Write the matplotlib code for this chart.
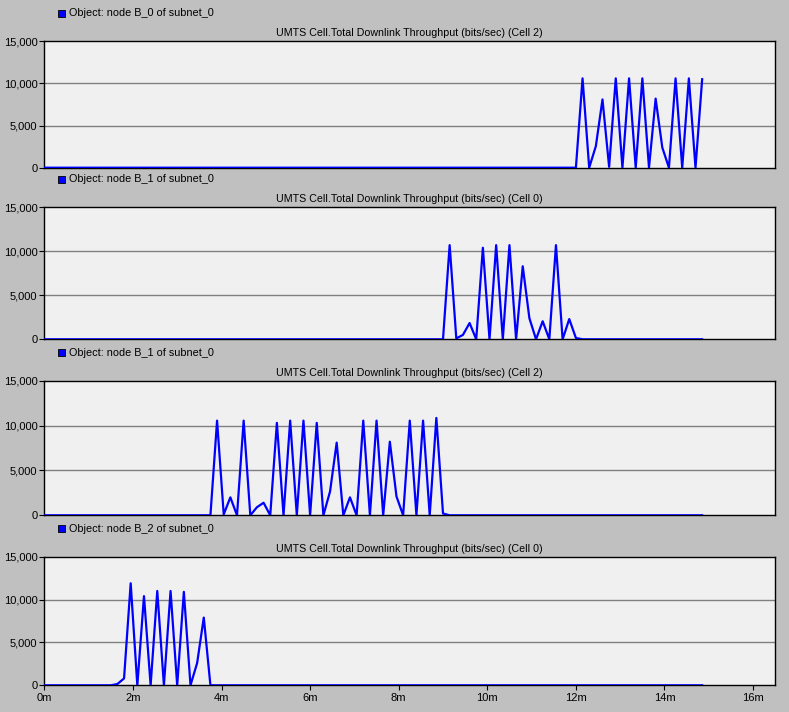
import numpy as np
from matplotlib import pyplot as plt
from matplotlib.ticker import StrMethodFormatter

plt.rcParams['font.family'] = ['Liberation Sans', 'DejaVu Sans']

# one sample every 9 seconds (0.15 min), 100 samples
sample_step = 0.15
n_samples = 100

legends = ['Object: node B_0 of subnet_0',
           'Object: node B_1 of subnet_0',
           'Object: node B_1 of subnet_0',
           'Object: node B_2 of subnet_0']

titles = ['UMTS Cell.Total Downlink Throughput (bits/sec) (Cell 2)',
          'UMTS Cell.Total Downlink Throughput (bits/sec) (Cell 0)',
          'UMTS Cell.Total Downlink Throughput (bits/sec) (Cell 2)',
          'UMTS Cell.Total Downlink Throughput (bits/sec) (Cell 0)']

b0_cell2 = [0, 0, 0, 0, 0, 0, 0, 0, 0, 0,
            0, 0, 0, 0, 0, 0, 0, 0, 0, 0,
            0, 0, 0, 0, 0, 0, 0, 0, 0, 0,
            0, 0, 0, 0, 0, 0, 0, 0, 0, 0,
            0, 0, 0, 0, 0, 0, 0, 0, 0, 0,
            0, 0, 0, 0, 0, 0, 0, 0, 0, 0,
            0, 0, 0, 0, 0, 0, 0, 0, 0, 0,
            0, 0, 0, 0, 0, 0, 0, 0, 0, 0,
            0, 10600, 0, 2550, 8100, 100, 10600, 0, 10600, 0,
            10600, 0, 8200, 2400, 0, 10600, 0, 10600, 0, 10500]

b1_cell0 = [0, 0, 0, 0, 0, 0, 0, 0, 0, 0,
            0, 0, 0, 0, 0, 0, 0, 0, 0, 0,
            0, 0, 0, 0, 0, 0, 0, 0, 0, 0,
            0, 0, 0, 0, 0, 0, 0, 0, 0, 0,
            0, 0, 0, 0, 0, 0, 0, 0, 0, 0,
            0, 0, 0, 0, 0, 0, 0, 0, 0, 0,
            0, 10700, 100, 500, 1850, 0, 10400, 0, 10700, 0,
            10700, 0, 8300, 2400, 0, 2050, 0, 10700, 0, 2300,
            150, 0, 0, 0, 0, 0, 0, 0, 0, 0,
            0, 0, 0, 0, 0, 0, 0, 0, 0, 0]

b1_cell2 = [0, 0, 0, 0, 0, 0, 0, 0, 0, 0,
            0, 0, 0, 0, 0, 0, 0, 0, 0, 0,
            0, 0, 0, 0, 0, 0, 10550, 100, 2000, 0,
            10550, 0, 900, 1400, 0, 10300, 0, 10550, 0, 10550,
            0, 10300, 0, 2650, 8100, 0, 2000, 0, 10550, 0,
            10550, 0, 8200, 2100, 0, 10550, 0, 10550, 0, 10850,
            200, 0, 0, 0, 0, 0, 0, 0, 0, 0,
            0, 0, 0, 0, 0, 0, 0, 0, 0, 0,
            0, 0, 0, 0, 0, 0, 0, 0, 0, 0,
            0, 0, 0, 0, 0, 0, 0, 0, 0, 0]

b2_cell0 = [0, 0, 0, 0, 0, 0, 0, 0, 0, 0,
            0, 150, 800, 11900, 0, 10400, 0, 11000, 0, 11000,
            0, 10900, 0, 2600, 7900, 0, 0, 0, 0, 0,
            0, 0, 0, 0, 0, 0, 0, 0, 0, 0,
            0, 0, 0, 0, 0, 0, 0, 0, 0, 0,
            0, 0, 0, 0, 0, 0, 0, 0, 0, 0,
            0, 0, 0, 0, 0, 0, 0, 0, 0, 0,
            0, 0, 0, 0, 0, 0, 0, 0, 0, 0,
            0, 0, 0, 0, 0, 0, 0, 0, 0, 0,
            0, 0, 0, 0, 0, 0, 0, 0, 0, 0]

series = [b0_cell2, b1_cell0, b1_cell2, b2_cell0]
x_ticks = [0, 2, 4, 6, 8, 10, 12, 14, 16]
y_ticks = [0, 5000, 10000, 15000]

times = np.arange(n_samples) * sample_step

W, H = 789, 712
# panel boxes in pixels: (top, bottom)
boxes = [(41.3, 167.7), (207.3, 339.3), (380.7, 515.3), (556.7, 685.3)]
left, right = 44.3, 775.3

fig = plt.figure(figsize=(W / 100, H / 100), dpi=100)
fig.patch.set_facecolor('#c0c0c0')

for k in range(4):
    top, bottom = boxes[k]
    ax = fig.add_axes([left / W, 1 - bottom / H, (right - left) / W, (bottom - top) / H])
    ax.set_facecolor('#f0f0f0')
    ax.plot(times, series[k], color='#0000ff', lw=1.6, zorder=3)
    ax.set_xlim(0, (right - left) / 44.3)
    ax.set_ylim(0, 15000)
    ax.set_yticks(y_ticks)
    ax.yaxis.set_major_formatter(StrMethodFormatter('{x:,.0f}'))
    for v in [5000, 10000]:
        ax.axhline(v, color='#808080', lw=1, zorder=1)
    for s in ax.spines.values():
        s.set_color('black')
        s.set_linewidth(1)
    ax.tick_params(axis='y', length=3.5, width=0.8, pad=1.5, labelsize=8, colors='black')
    if k == 3:
        ax.set_xticks(x_ticks)
        ax.set_xticklabels([str(t) + 'm' for t in x_ticks])
        ax.tick_params(axis='x', length=3.5, width=0.8, pad=2, labelsize=8)
    else:
        ax.set_xticks([])
    ax.set_title(titles[k], fontsize=7.7, pad=3.5)

    # legend square + label above the panel
    ly = top - 28
    fig.patches.append(plt.Rectangle((58 / W, 1 - (ly + 3.5) / H), 7 / W, 7 / H,
                                     transform=fig.transFigure, facecolor='#0000ff',
                                     edgecolor='black', lw=0.6, figure=fig))
    fig.text(69 / W, 1 - ly / H, legends[k], fontsize=7.8, va='center')

fig.savefig('out.png', dpi=100, facecolor=fig.get_facecolor())
